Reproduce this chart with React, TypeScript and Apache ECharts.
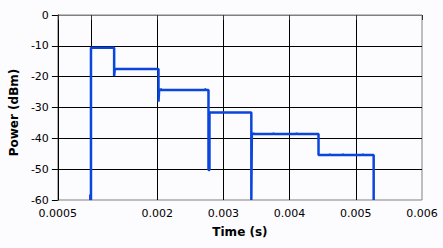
import React, { useEffect, useRef } from "react";
import * as echarts from "echarts";

// Step trace: time (s) and power (dBm)
const times = [
  0.00099, 0.00099, 0.001, 0.001,
  0.00135, 0.00135, 0.00136,
  0.00202, 0.00202, 0.00203,
  0.00205, 0.00205, 0.00206, 0.00206,
  0.00272, 0.00272, 0.00273, 0.00273,
  0.002775, 0.002775, 0.00279, 0.00279,
  0.003422, 0.003422, 0.00343,
  0.00345, 0.00345, 0.00346, 0.00346,
  0.00375, 0.00375, 0.00376, 0.00376,
  0.0041, 0.0041, 0.00411, 0.00411,
  0.004437, 0.004437, 0.00445,
  0.0046, 0.0046, 0.00461, 0.00461,
  0.0048, 0.0048, 0.00481, 0.00481,
  0.0051, 0.0051, 0.00511, 0.00511,
  0.00527, 0.00527,
];
const power = [
  -60, -58.2, -60, -10.6,
  -10.6, -19.8, -17.5,
  -17.5, -28.1, -24.3,
  -24.3, -23.9, -23.9, -24.3,
  -24.3, -23.9, -23.9, -24.3,
  -24.3, -50.3, -50.3, -31.6,
  -31.6, -60, -38.6,
  -38.6, -38.2, -38.2, -38.6,
  -38.6, -38.2, -38.2, -38.6,
  -38.6, -38.2, -38.2, -38.6,
  -38.6, -45.4, -45.4,
  -45.4, -45.0, -45.0, -45.4,
  -45.4, -45.0, -45.0, -45.4,
  -45.4, -45.0, -45.0, -45.4,
  -45.4, -60,
];

const xMin = 0.0005;
const xMax = 0.006;
const yTicks = [0, -10, -20, -30, -40, -50, -60];
const hiddenXLabels = [0.001];

export default function App() {
  const ref = useRef<HTMLDivElement>(null);
  useEffect(() => {
    document.body.style.margin = "0";
    document.body.style.background = "#fcfbfe";
    const chart = echarts.init(ref.current!, null, { renderer: "svg" });
    const data = times.map((t, i) => [t, power[i]]);
    chart.setOption({
      animation: false,
      backgroundColor: "#fcfbfe",
      grid: {
        left: 55,
        right: 21,
        top: 15,
        bottom: 48,
        show: true,
        borderColor: "#808080",
        borderWidth: 1,
      },
      xAxis: {
        type: "value",
        min: xMin,
        max: xMax,
        name: "Time (s)",
        nameLocation: "middle",
        nameGap: 26,
        nameTextStyle: {
          fontFamily: "DejaVu Sans",
          fontWeight: "bold",
          fontSize: 12,
          color: "#000",
        },
        axisLine: { show: true, lineStyle: { color: "#808080", width: 1 } },
        axisTick: { show: true, length: 5, lineStyle: { color: "#333" } },
        axisLabel: {
          fontFamily: "DejaVu Sans",
          fontSize: 11,
          color: "#000",
          margin: 8,
          showMinLabel: true,
          showMaxLabel: true,
          hideOverlap: false,
          formatter: (v: number) => {
            const r = +v.toFixed(4);
            if (hiddenXLabels.some((h) => Math.abs(h - r) < 1e-9)) return "";
            return String(r);
          },
        },
        splitLine: {
          show: true,
          showMinLine: false,
          showMaxLine: false,
          lineStyle: { color: "#000", width: 1 },
        },
      },
      yAxis: {
        type: "value",
        min: -60,
        max: 0,
        interval: 10,
        name: "Power (dBm)",
        nameLocation: "middle",
        nameGap: 32,
        nameTextStyle: {
          fontFamily: "DejaVu Sans",
          fontWeight: "bold",
          fontSize: 12,
          color: "#000",
          padding: [0, 10, 0, 0],
        },
        axisLine: { show: true, lineStyle: { color: "#000", width: 1 } },
        axisTick: { show: true, length: 6, lineStyle: { color: "#000" } },
        axisLabel: {
          fontFamily: "DejaVu Sans",
          fontSize: 11,
          color: "#000",
          margin: 9,
          formatter: (v: number) => (yTicks.includes(v) ? String(v) : ""),
        },
        splitLine: {
          show: true,
          showMinLine: false,
          lineStyle: { color: "#000", width: 1 },
        },
      },
      series: [
        {
          type: "line",
          data,
          showSymbol: false,
          symbol: "none",
          lineStyle: { color: "#0a45dc", width: 2.5 },
          z: 5,
        },
      ],
    });
    return () => chart.dispose();
  }, []);
  return (
    <div
      ref={ref}
      style={{ position: "fixed", left: 0, top: 0, width: 443, height: 248 }}
    />
  );
}
